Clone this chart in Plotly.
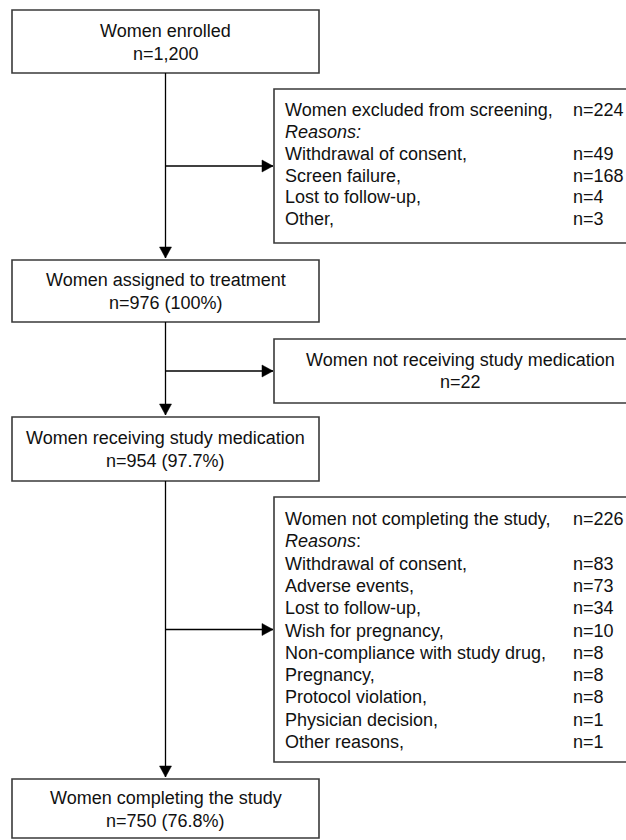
import plotly.graph_objects as go

# ---------------- data ----------------
main_titles = ["Women enrolled", "Women assigned to treatment",
               "Women receiving study medication", "Women completing the study"]
main_counts = ["n=1,200", "n=976 (100%)", "n=954 (97.7%)", "n=750 (76.8%)"]

excl_title = "Women excluded from screening,"
excl_total = 224
excl_reasons = ["Withdrawal of consent,", "Screen failure,", "Lost to follow-up,", "Other,"]
excl_counts = [49, 168, 4, 3]

norec_title = "Women not receiving study medication"
norec_total = 22

noncomp_title = "Women not completing the study,"
noncomp_total = 226
noncomp_reasons = ["Withdrawal of consent,", "Adverse events,", "Lost to follow-up,",
                   "Wish for pregnancy,", "Non-compliance with study drug,", "Pregnancy,",
                   "Protocol violation,", "Physician decision,", "Other reasons,"]
noncomp_counts = [83, 73, 34, 10, 8, 8, 8, 1, 1]

# ---------------- layout geometry ----------------
W, H = 626, 840
FONT = "Arial, Liberation Sans, sans-serif"
FS = 18
main_x = (12, 319)
main_y = [(10, 73), (260, 322), (417, 481), (779, 838)]
side_x = (274, 646)
side_y = [(89, 243), (339, 403), (497, 762)]
spine_x = (main_x[0] + main_x[1]) / 2
txt_left = 283
val_left = 571
pitch = 22.3
BOX_COL = "#3a3a3a"

shapes = []
ann = []

def rect(x0, x1, y0, y1):
    shapes.append(dict(type="rect", xref="x", yref="y", x0=x0, x1=x1, y0=y0, y1=y1,
                       line=dict(color=BOX_COL, width=1.6), fillcolor="white", layer="above"))

def line(x0, y0, x1, y1):
    shapes.append(dict(type="line", xref="x", yref="y", x0=x0, y0=y0, x1=x1, y1=y1,
                       line=dict(color="black", width=1.3), layer="above"))

def arrowhead(x, y, direction):
    if direction == "down":
        p = f"M {x-6},{y-11} L {x+6},{y-11} L {x},{y} Z"
    else:
        p = f"M {x-11},{y-6} L {x-11},{y+6} L {x},{y} Z"
    shapes.append(dict(type="path", xref="x", yref="y", path=p,
                       fillcolor="black", line=dict(color="black", width=0.5), layer="above"))

def text(x, y, s, anchor="left"):
    ann.append(dict(x=x, y=y, xref="x", yref="y", text=s, showarrow=False,
                    xanchor=anchor, yanchor="middle",
                    font=dict(family=FONT, size=FS, color="#111111")))

# main boxes
for (y0, y1), t, c in zip(main_y, main_titles, main_counts):
    rect(main_x[0], main_x[1], y0, y1)
    cy = (y0 + y1) / 2
    text(spine_x, cy - 11, t, "center")
    text(spine_x, cy + 12, c, "center")

# vertical connectors with arrowheads
for (a0, a1), (b0, b1) in zip(main_y[:-1], main_y[1:]):
    line(spine_x, a1, spine_x, b0 - 2)
    arrowhead(spine_x, b0 - 2, "down")

# side boxes
for (y0, y1) in side_y:
    rect(side_x[0], side_x[1], y0, y1)
    cy = (y0 + y1) / 2
    line(spine_x, cy, side_x[0] - 1, cy)
    arrowhead(side_x[0] - 1, cy, "right")

# box 2 text
y = side_y[0][0] + 21
text(txt_left, y, excl_title)
text(val_left, y, f"n={excl_total}")
y += pitch * 0.98
text(txt_left, y, "<i>Reasons:</i>")
for r, c in zip(excl_reasons, excl_counts):
    y += pitch * 0.98
    text(txt_left, y, r)
    text(val_left, y, f"n={c}")

# box 4 text
cy = (side_y[1][0] + side_y[1][1]) / 2
text((side_x[0] + side_x[1]) / 2, cy - 11, norec_title, "center")
text((side_x[0] + side_x[1]) / 2, cy + 11, f"n={norec_total}", "center")

# box 6 text
y = side_y[2][0] + 22
text(txt_left, y, noncomp_title)
text(val_left, y, f"n={noncomp_total}")
y += pitch
text(txt_left, y, "<i>Reasons</i>:")
for r, c in zip(noncomp_reasons, noncomp_counts):
    y += pitch
    text(txt_left, y, r)
    text(val_left, y, f"n={c}")

fig = go.Figure()
fig.update_layout(
    width=W, height=H,
    margin=dict(l=0, r=0, t=0, b=0),
    paper_bgcolor="white", plot_bgcolor="white",
    xaxis=dict(range=[0, W], visible=False, fixedrange=True),
    yaxis=dict(range=[H, 0], visible=False, fixedrange=True),
    shapes=shapes, annotations=ann, showlegend=False,
)
fig.write_html("out.html", config={"displayModeBar": False},
               post_script="document.body.style.margin='0px';document.body.style.overflow='hidden';")
